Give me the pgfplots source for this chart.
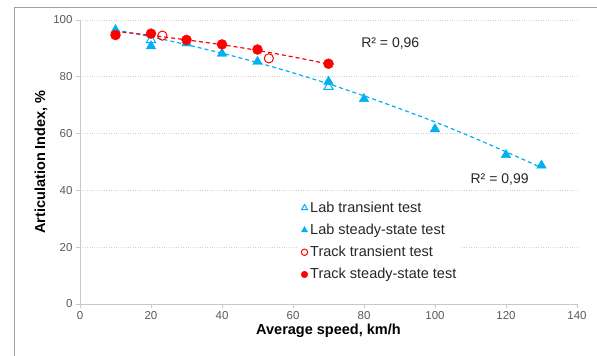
\documentclass[border=0pt]{standalone}
\usepackage{pgfplots}
\pgfplotsset{compat=1.18}
\usepackage{fontspec}
\setmainfont{Liberation Sans}
\definecolor{labblue}{RGB}{0,176,240}
\definecolor{trackred}{RGB}{255,0,0}
\definecolor{ticktxt}{RGB}{89,89,89}
\definecolor{axgray}{RGB}{200,200,200}
\definecolor{gridgray}{RGB}{210,210,210}
\definecolor{framegray}{RGB}{160,160,160}
\begin{document}
\begin{tikzpicture}
\useasboundingbox (0pt,0pt) rectangle (597pt,356pt);
\draw[framegray, line width=1pt] (14pt,0pt) -- (14pt,348pt) -- (597pt,348pt);
\begin{axis}[
  at={(80pt,52pt)}, anchor=origin,
  scale only axis, width=497pt, height=284pt,
  xmin=0, xmax=140, ymin=0, ymax=100,
  xtick={0,20,...,140}, ytick={0,20,...,100},
  axis x line*=bottom, axis y line*=left,
  axis line style={axgray, line width=0.8pt, -},
  tick style={axgray, line width=0.8pt},
  tick align=outside, major tick length=4pt,
  ymajorgrids, grid style={gridgray, dotted, line width=0.8pt},
  tick label style={font=\fontsize{11.5}{13}\selectfont, text=ticktxt},
  /pgf/number format/assume math mode=true,
  xlabel={\textbf{Average speed, km/h}},
  ylabel={\textbf{Articulation Index, \%}},
  label style={font=\fontsize{14.5}{16}\selectfont},
  xlabel style={yshift=3pt},
  ylabel style={yshift=-1pt},
  legend style={at={(axis cs:61.3,38.5)}, anchor=north west, fill=white, draw=none,
    font=\fontsize{14.5}{16}\selectfont, row sep=6.2pt, inner xsep=3pt, inner ysep=5pt,
    cells={anchor=west}, text=black!85},
  legend image code/.code={\path (0pt,0pt) (7pt,0pt); \draw[#1] plot coordinates {(3.5pt,0pt)};},
  legend cell align=left,
  clip=false,
]
% trend lines
\addplot[labblue, line width=1.2pt, dash pattern=on 4pt off 3pt, forget plot, smooth]
  coordinates {(10,96.5)(20,94.1)(30,91.3)(40,88.3)(50,85.0)(60,81.4)(70,77.5)(80,73.3)(90,68.8)(100,64.1)(110,59.0)(120,53.6)(130,48.0)};
\addplot[trackred, line width=1.2pt, dash pattern=on 4pt off 3pt, forget plot, smooth]
  coordinates {(10,96.0)(20,94.6)(30,93.0)(40,91.3)(50,89.3)(60,87.0)(70,84.5)};
% Lab transient
\addplot[only marks, mark=triangle, mark size=5.3pt, mark options={labblue, line width=1pt, fill=white},
  legend image post style={mark size=3.3pt}]
  coordinates {(20,93.0)(70,76.5)};
\addlegendentry{Lab transient test}
% Lab steady-state
\addplot[only marks, mark=triangle*, mark size=5.5pt, mark options={labblue, fill=labblue},
  legend image post style={mark size=3.5pt}]
  coordinates {(10,96.5)(20,90.8)(30,91.8)(40,88.2)(50,85.3)(70,78.3)(80,72.2)(100,61.6)(120,52.5)(130,48.8)};
\addlegendentry{Lab steady-state test}
% Track transient
\addplot[only marks, mark=o, mark size=4.6pt, mark options={trackred, line width=1pt, fill=white},
  legend image post style={mark size=3.2pt}]
  coordinates {(23.2,94.5)(53.2,86.5)};
\addlegendentry{Track transient test}
% Track steady-state
\addplot[only marks, mark=*, mark size=5pt, mark options={trackred, fill=trackred},
  legend image post style={mark size=3.3pt}]
  coordinates {(10,94.7)(20,95.2)(30,93.0)(40,91.4)(50,89.6)(70,84.6)};
\addlegendentry{Track steady-state test}
\node[font=\fontsize{14}{16}\selectfont, text=black!85] at (axis cs:87.4,91.6) {R² = 0,96};
\node[font=\fontsize{14}{16}\selectfont, text=black!85] at (axis cs:118.2,44.0) {R² = 0,99};
\end{axis}
\end{tikzpicture}
\end{document}
